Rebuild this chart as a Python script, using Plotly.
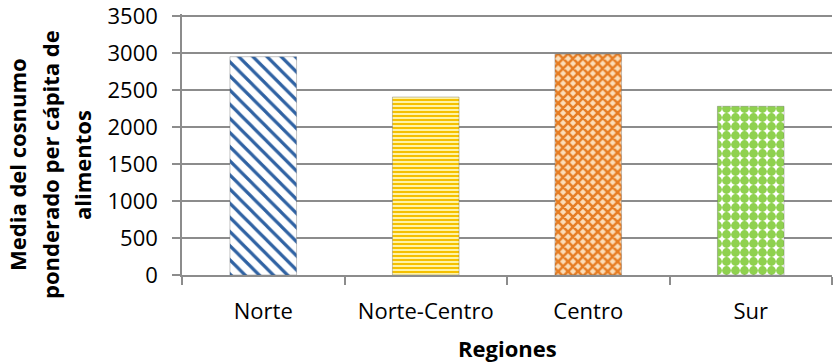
import plotly.graph_objects as go

# Mean weighted per-capita food consumption by region
regiones = ["Norte", "Norte-Centro", "Centro", "Sur"]
consumo = [2950, 2405, 2985, 2280]

y_ticks = [0, 500, 1000, 1500, 2000, 2500, 3000, 3500]

# Per-bar fill patterns
fg_colors = ["#2F62A3", "#F5C000", "#E67C22", "#8FD14F"]
bg_colors = ["#FFFFFF", "#FFF3A6", "#FBDDB8", "#FFFFFF"]
shapes = ["\\", "-", "x", "."]
sizes = [10, 4, 7, 9]
solidities = [0.32, 0.5, 0.6, 0.75]

FONT = "Open Sans"
GRID = "#8C8C8C"

fig = go.Figure()
for reg, val, fg, bg, sh, sz, so in zip(regiones, consumo, fg_colors, bg_colors,
                                         shapes, sizes, solidities):
    fig.add_trace(
        go.Bar(
            x=[reg],
            y=[val],
            width=0.41,
            name=reg,
            marker=dict(
                color=bg,
                line=dict(color="rgba(90,90,90,0.35)", width=1),
                pattern=dict(
                    shape=sh,
                    fgcolor=fg,
                    bgcolor=bg,
                    size=sz,
                    solidity=so,
                    fillmode="replace",
                ),
            ),
            hoverinfo="x+y",
        )
    )

W, H = 834, 362
LEFT, RIGHT, TOP, BOTTOM = 182, 2, 14, 87
plot_w = W - LEFT - RIGHT
plot_h = H - TOP - BOTTOM
base_y = H - BOTTOM           # pixel row of the x axis
y_max = 3500 * plot_h / 259   # a little headroom so the 3500 gridline is kept

fig.update_layout(
    width=W,
    height=H,
    margin=dict(l=LEFT, r=RIGHT, t=TOP, b=BOTTOM),
    paper_bgcolor="white",
    plot_bgcolor="white",
    showlegend=False,
    barmode="overlay",
    font=dict(family=FONT, size=22, color="black"),
)

fig.update_xaxes(
    type="category",
    categoryorder="array",
    categoryarray=regiones,
    range=[-0.5, 3.5],
    automargin=False,
    showgrid=False,
    showline=True,
    linecolor=GRID,
    linewidth=1.5,
    ticks="outside",
    tickson="boundaries",
    ticklen=8,
    tickcolor=GRID,
    tickwidth=1.5,
    ticklabelstandoff=16,
    tickfont=dict(family=FONT, size=22, color="black"),
)

fig.update_yaxes(
    range=[0, y_max],
    tickvals=y_ticks,
    ticktext=[str(v) for v in y_ticks],
    ticklabeloverflow="allow",
    automargin=False,
    showgrid=True,
    gridcolor=GRID,
    gridwidth=1.5,
    showline=True,
    linecolor=GRID,
    linewidth=1.5,
    ticks="outside",
    ticklen=8,
    tickcolor=GRID,
    tickwidth=1.5,
    ticklabelstandoff=10,
    zeroline=False,
    tickfont=dict(family=FONT, size=22, color="black"),
)

# Y-axis title, three centred lines
title_lines = ["Media del cosnumo", "ponderado per cápita de", "alimentos"]
line_x = [17, 50, 82]  # pixel centre of each line
for txt, px in zip(title_lines, line_x):
    fig.add_annotation(
        text=f"<b>{txt}</b>",
        xref="paper", yref="paper",
        x=(px - LEFT) / plot_w,
        y=(base_y - 165) / plot_h,
        xanchor="center", yanchor="middle",
        textangle=-90,
        showarrow=False,
        font=dict(family=FONT, size=22, color="black"),
    )

# X-axis title
fig.add_annotation(
    text="<b>Regiones</b>",
    xref="paper", yref="paper",
    x=0.5,
    y=(base_y - 348) / plot_h,
    xanchor="center", yanchor="middle",
    showarrow=False,
    font=dict(family=FONT, size=22, color="black"),
)

fig.write_html("out.html")
